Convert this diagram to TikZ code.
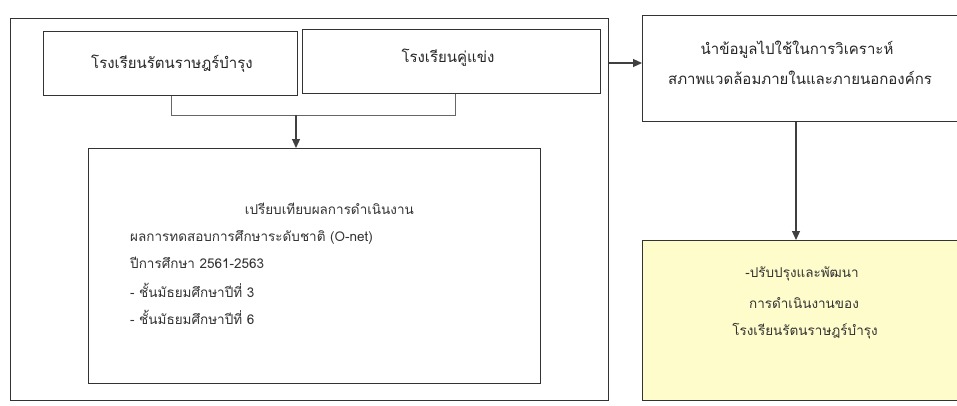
\documentclass[tikz,border=0pt]{standalone}
\usepackage{fontspec}
\newfontfamily\thaifont[Script=Thai]{Loma}
\usetikzlibrary{arrows.meta,positioning}
\tikzset{
  boxline/.style={draw=black!80, line width=1.3pt},
  txt/.style={font=\thaifont\fontsize{15}{18}\selectfont, text=black!85, inner sep=0pt},
  txtc/.style={font=\thaifont\fontsize{13.5}{16}\selectfont, text=black!80, inner sep=0pt},
  conn/.style={draw=black!75, line width=1.1pt, -{Triangle[length=9pt,width=8pt]}},
  thin/.style={draw=black!60, line width=0.6pt}
}
\begin{document}
\begin{tikzpicture}[x=1pt,y=-1pt]
\useasboundingbox (0,0) rectangle (957,405);
\fill[white] (0,0) rectangle (957,405);
% outer frame
\node[boxline, minimum width=598pt, minimum height=382pt, anchor=north west, inner sep=0pt] (outer) at (10,18) {};
% box A and B
\node[boxline, minimum width=254pt, minimum height=64pt, anchor=north west, inner sep=0pt] (A) at (43,31) {};
\node[txt] (Atxt) at (172,64) {โรงเรียนรัตนราษฎร์บำรุง};
\node[boxline, minimum width=298pt, minimum height=64pt, anchor=north west, inner sep=0pt] (B) at (302,29) {};
\node[txt] (Btxt) at (448,58) {โรงเรียนคู่แข่ง};
% box C
\node[boxline, minimum width=452pt, minimum height=235pt, anchor=north west, inner sep=0pt] (C) at (88,148) {};
\node[txtc, anchor=east] (c1) at (414,209) {เปรียบเทียบผลการดำเนินงาน};
\node[txtc, anchor=west] (c2) at (130,237) {ผลการทดสอบการศึกษาระดับชาติ (O-net)};
\node[txtc, anchor=west] (c3) at (130,263) {ปีการศึกษา 2561-2563};
\node[txtc, anchor=west] (c4) at (130,290) {- ชั้นมัธยมศึกษาปีที่ 3};
\node[txtc, anchor=west] (c5) at (130,317) {- ชั้นมัธยมศึกษาปีที่ 6};
% box D
\node[boxline, minimum width=320pt, minimum height=106pt, anchor=north west, inner sep=0pt] (D) at (642,15) {};
\node[txt] (d1) at (797,50) {นำข้อมูลไปใช้ในการวิเคราะห์};
\node[txt] (d2) at (800,78) {สภาพแวดล้อมภายในและภายนอกองค์กร};
% box E
\node[boxline, fill=yellow!20!white, minimum width=320pt, minimum height=160pt, anchor=north west, inner sep=0pt] (E) at (642,240) {};
\node[txtc] (e1) at (802,274) {-ปรับปรุงและพัฒนา};
\node[txtc] (e2) at (804,303) {การดำเนินงานของ};
\node[txtc] (e3) at (805,331) {โรงเรียนรัตนราษฎร์บำรุง};
% connectors
\coordinate (ja) at (171,115);
\coordinate (jb) at (455,115);
\coordinate (jm) at (296,115);
\draw[thin] (A.south -| ja) -- (ja) -- (jb) -- (B.south -| jb);
\draw[conn] (jm) -- (C.north -| jm);
\draw[conn] (outer.east |- 0,63) -- (D.west |- 0,63);
\draw[conn] (D.south -| 796,0) -- (E.north -| 796,0);
\end{tikzpicture}
\end{document}
